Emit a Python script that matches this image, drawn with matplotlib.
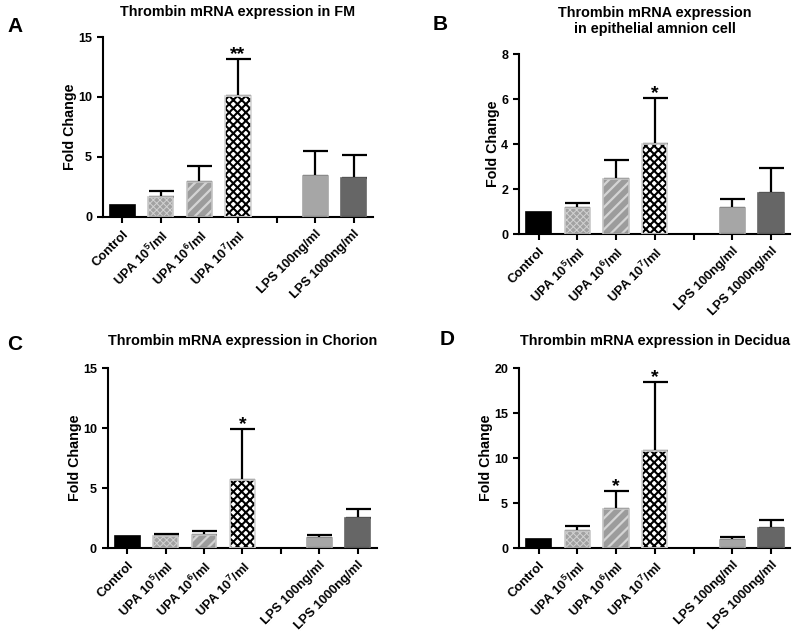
import matplotlib.pyplot as plt
import numpy as np

plt.rcParams["font.family"] = ["Liberation Sans", "DejaVu Sans"]
plt.rcParams["font.weight"] = "bold"
plt.rcParams["axes.labelweight"] = "bold"
plt.rcParams["mathtext.fontset"] = "custom"
plt.rcParams["mathtext.rm"] = "Liberation Sans:bold"
plt.rcParams["mathtext.bf"] = "Liberation Sans:bold"
plt.rcParams["mathtext.default"] = "bf"

# groups on the x axis ("" is the empty gap slot)
labels = ["Control", "UPA 10$^{5}$/ml", "UPA 10$^{6}$/ml", "UPA 10$^{7}$/ml", "",
          "LPS 100ng/ml", "LPS 1000ng/ml"]

# panel A: fetal membrane
fm_mean = [1.0, 1.64, 2.95, 10.05, 3.42, 3.22]
fm_err = [0.0, 0.53, 1.3, 3.1, 2.11, 1.92]
fm_sig = ["", "", "", "**", "", ""]

# panel B: epithelial amnion cell
amn_mean = [1.0, 1.18, 2.44, 4.01, 1.16, 1.85]
amn_err = [0.0, 0.22, 0.85, 2.03, 0.41, 1.08]
amn_sig = ["", "", "", "*", "", ""]

# panel C: chorion
cho_mean = [0.98, 1.02, 1.12, 5.66, 0.87, 2.51]
cho_err = [0.0, 0.15, 0.28, 4.27, 0.19, 0.75]
cho_sig = ["", "", "", "*", "", ""]

# panel D: decidua
dec_mean = [0.97, 1.9, 4.39, 10.78, 0.93, 2.23]
dec_err = [0.0, 0.52, 1.97, 7.65, 0.26, 0.93]
dec_sig = ["", "", "*", "*", "", ""]

# bar styles: (face, hatch, hatch colour, hatch width, outline)
styles = [
    ("black", None, "black", 1.0, "black"),
    ("#a2a2a2", "xxxxx", "#d2d2d2", 0.7, "#c8c8c8"),
    ("#9c9c9c", "///", "#d4d4d4", 1.6, "#c4c4c4"),
    ("white", "xxxx", "black", 1.5, "#d4d4d4"),
    ("#a6a6a6", None, "#a6a6a6", 1.0, "#a6a6a6"),
    ("#666666", None, "#666666", 1.0, "#666666"),
]


def draw_panel(ax, mean, err, sig, ymax, ystep, title, pad):
    pos = [i for i, lab in enumerate(labels) if lab]
    for k, x in enumerate(pos):
        face, hatch, hcol, hlw, edge = styles[k]
        b = ax.bar(x, mean[k], width=0.65, color=face, edgecolor=hcol, hatch=hatch,
                   linewidth=0, zorder=2)
        for p in b:
            if hasattr(p, "set_hatch_linewidth"):
                p.set_hatch_linewidth(hlw)
        ax.bar(x, mean[k], width=0.65, fill=False, edgecolor=edge, linewidth=1.2, zorder=3)
        if err[k] > 0:
            ax.errorbar(x, mean[k], yerr=[[0], [err[k]]], fmt="none", ecolor="black",
                        elinewidth=1.6, capsize=9, capthick=1.6, zorder=1)
        if sig[k]:
            ax.text(x, mean[k] + err[k], sig[k], ha="center", va="baseline",
                    fontsize=14, zorder=4)
    ax.set_xlim(-0.5, len(labels) - 0.5)
    ax.set_ylim(0, ymax)
    ax.set_yticks(np.arange(0, ymax + 0.01, ystep))
    ax.set_xticks(range(len(labels)))
    ax.set_xticklabels(labels, rotation=45, ha="right", rotation_mode="anchor", fontsize=9.3)
    ax.tick_params(axis="y", labelsize=9)
    ax.set_ylabel("Fold Change", fontsize=10.3, labelpad=1)
    ax.set_title(title, fontweight="bold", fontsize=10.4, pad=pad)
    for side in ["top", "right"]:
        ax.spines[side].set_visible(False)
    for side in ["left", "bottom"]:
        ax.spines[side].set_linewidth(1.5)
    ax.tick_params(width=1.5, length=4.5, direction="out")


fig = plt.figure(figsize=(8, 6.38), dpi=100)
ax_a = fig.add_axes([0.129, 0.660, 0.337, 0.282])
ax_b = fig.add_axes([0.649, 0.633, 0.339, 0.282])
ax_c = fig.add_axes([0.135, 0.141, 0.336, 0.282])
ax_d = fig.add_axes([0.649, 0.141, 0.339, 0.282])

draw_panel(ax_a, fm_mean, fm_err, fm_sig, 15, 5, "Thrombin mRNA expression in FM", 15)
draw_panel(ax_b, amn_mean, amn_err, amn_sig, 8, 2,
           "Thrombin mRNA expression\nin epithelial amnion cell", 15)
draw_panel(ax_c, cho_mean, cho_err, cho_sig, 15, 5, "Thrombin mRNA expression in Chorion", 17)
draw_panel(ax_d, dec_mean, dec_err, dec_sig, 20, 5, "Thrombin mRNA expression in Decidua", 17)

for letter, x, y in [("A", 7, 26), ("B", 433, 24), ("C", 7, 345), ("D", 440, 339)]:
    fig.text(x / 800, 1 - y / 638, letter, fontsize=15, fontweight="bold", va="center")

fig.savefig("out.png", dpi=100, facecolor="white")
